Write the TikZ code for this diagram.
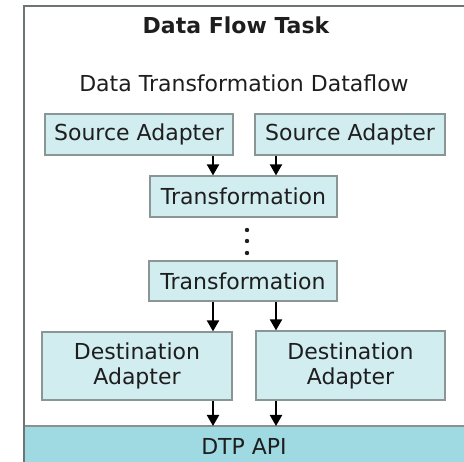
\documentclass[tikz,border=0pt]{standalone}
\usepackage{fontspec}
\setmainfont{DejaVu Sans}
\usetikzlibrary{arrows.meta}
\definecolor{boxfill}{HTML}{D1EDF0}
\definecolor{boxline}{HTML}{8A9696}
\definecolor{apifill}{HTML}{9FD9E2}
\definecolor{framegray}{HTML}{6E7373}
\definecolor{ink}{HTML}{1E1E1E}
\begin{document}
\begin{tikzpicture}[x=1pt,y=-1pt,
    every node/.style={text=ink,font=\fontsize{22}{26}\selectfont},
    box/.style={draw=boxline,line width=1.2pt,fill=boxfill,inner sep=0pt,align=center},
    arr/.style={line width=2pt,-{Triangle[width=12pt,length=11pt]}}]
  \useasboundingbox (0,0) rectangle (464,462);
  \draw[framegray,line width=2pt] (470,6) -- (24,6) -- (24,470);
  \node[fill=apifill,minimum width=439pt,minimum height=38pt,inner sep=0pt,anchor=north west] (api) at (25,426) {};
  \draw[framegray!80,line width=1.5pt] (api.north west) -- (api.north east);
  \node at (244,446) {DTP API};
  \node[font=\bfseries\fontsize{22}{26}\selectfont] (title) at (236,25) {Data Flow Task};
  \node (flow) at (244,83) {Data Transformation Dataflow};
  \node[box,minimum width=188pt,minimum height=41pt] (src1) at (139,134.5) {Source Adapter};
  \node[box,minimum width=190pt,minimum height=41pt] (src2) at (350,134.5) {Source Adapter};
  \node[box,minimum width=187pt,minimum height=41pt] (tr1) at (243.5,196.5) {Transformation};
  \node[box,minimum width=188pt,minimum height=40pt] (tr2) at (243,281) {Transformation};
  \node[box,minimum width=190pt,minimum height=68pt] (dst1) at (137,366) {Destination\\[-1pt]Adapter};
  \node[box,minimum width=189pt,minimum height=69pt] (dst2) at (350.5,365.5) {Destination\\[-1pt]Adapter};
  \coordinate (l) at (213,0);
  \coordinate (r) at (276,0);
  \draw[arr] (src1.south -| l) -- (tr1.north -| l);
  \draw[arr] (src2.south -| r) -- (tr1.north -| r);
  \draw[arr] (tr2.south -| l) -- (dst1.north -| l);
  \draw[arr] (tr2.south -| r) -- (dst2.north -| r);
  \draw[arr] (dst1.south -| l) -- (api.north -| l);
  \draw[arr] (dst2.south -| r) -- (api.north -| r);
  \foreach \y in {230,241,253} \fill[ink] (247,\y) circle (2.2pt);
\end{tikzpicture}
\end{document}
